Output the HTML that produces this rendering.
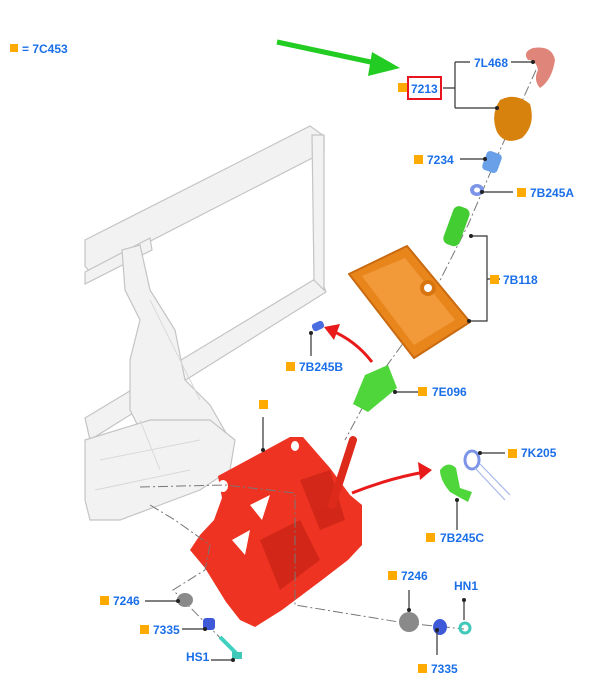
<!DOCTYPE html>
<html><head><meta charset="utf-8"><style>
html,body{margin:0;padding:0;background:#fff;width:600px;height:687px;overflow:hidden}
svg{display:block}
text{font-family:"Liberation Sans",sans-serif;font-weight:bold;font-size:12px;fill:#1a6fe8}
</style></head><body>
<svg width="600" height="687" viewBox="0 0 600 687">
<!-- gray frame -->
<g fill="#f2f2f2" stroke="#c4c4c4" stroke-width="1.2">
<polygon points="85,240 310,126 324,136 324,152 90,272 85,266"/>
<polygon points="85,272 150,238 152,250 85,284"/>
<polygon points="85,418 320,276 326,292 90,440"/>
<polygon points="312,135 324,135 324,290 314,280"/>
<polygon points="122,250 140,245 150,290 175,330 185,380 210,405 230,440 220,470 190,480 150,450 130,410 130,360 140,320 125,290"/>
<polygon points="85,440 150,420 210,420 235,440 230,470 200,490 160,505 120,520 90,520 85,500"/>
</g>
<g stroke="#d8d8d8" stroke-width="1" fill="none">
<path d="M150,300 L200,400 M100,460 L200,440 M95,490 L190,470 M140,420 L160,470"/>
</g>
<!-- red frame -->
<polygon fill="#ee3322" points="218,476 290,437 303,437 330,468 350,495 362,505 362,545 348,560 322,580 282,610 255,627 240,620 226,602 205,568 190,550 200,535 214,520 222,498"/>
<g fill="#fff"><ellipse cx="223" cy="486" rx="5" ry="6"/><ellipse cx="295" cy="446" rx="4" ry="5"/><polygon points="250,505 270,495 262,520"/><polygon points="232,540 250,530 245,555"/></g>
<g fill="#b81d10" opacity=".5"><polygon points="260,540 300,520 320,560 280,590"/><polygon points="300,480 330,470 345,520 320,530"/></g>
<line x1="353" y1="440" x2="332" y2="505" stroke="#dd2a1a" stroke-width="8" stroke-linecap="round"/>
<!-- dash-dot lines -->
<g stroke="#777" stroke-width="1" fill="none" stroke-dasharray="10,3,2,3">
<path d="M536,70 L500,150 L468,225 L420,320 L380,375 L345,440"/>
<path d="M140,487 L225,485 L295,493 L295,605 L405,623 L464,629"/>
<path d="M150,505 L175,520 L210,545 L205,570 L173,590 L240,658"/>
</g>
<!-- red arrows -->
<path d="M372,362 Q355,340 330,330" stroke="#e81a1a" stroke-width="3" fill="none"/>
<polygon points="324,327 340,324 334,340" fill="#e81a1a"/>
<path d="M352,493 Q390,478 425,472" stroke="#e81a1a" stroke-width="3" fill="none"/>
<polygon points="432,470 418,462 420,480" fill="#e81a1a"/>
<!-- green arrow -->
<line x1="277" y1="42" x2="380" y2="64" stroke="#22cc22" stroke-width="5"/>
<polygon points="400,68 372,52 368,76" fill="#22cc22"/>
<!-- parts -->
<path d="M533,48 Q552,45 555,60 Q552,80 540,88 Q533,80 538,70 Q536,60 528,60 Q522,52 533,48z" fill="#e0857a"/>
<path d="M500,100 Q515,92 530,104 Q536,125 522,138 Q505,146 497,132 Q490,115 500,100z" fill="#d8820e"/>
<rect x="484" y="152" width="16" height="20" rx="4" fill="#6aa0e8" transform="rotate(20 492 162)"/>
<ellipse cx="477" cy="190" rx="7" ry="6" fill="#7d95e8"/><ellipse cx="477" cy="190" rx="3" ry="2.5" fill="#fff"/>
<rect x="448" y="206" width="17" height="40" rx="6" fill="#44cc33" transform="rotate(20 456 226)"/>
<polygon points="349,274 407,246 470,322 414,358" fill="#e8861c" stroke="#c96a10" stroke-width="2" stroke-linejoin="round"/>
<polygon points="362,276 405,258 455,320 414,345" fill="#f29a3a"/>
<circle cx="428" cy="288" r="8" fill="#d87510"/><circle cx="428" cy="288" r="4" fill="#fff"/>
<polygon points="365,375 388,365 397,388 368,412 353,404" fill="#4ed63a"/>
<rect x="312" y="322" width="12" height="8" rx="3" fill="#4a6ee0" transform="rotate(-25 318 326)"/>
<path d="M440,470 Q448,460 456,468 L460,488 L472,492 L468,502 L450,492 Q440,480 440,470z" fill="#4ed63a"/>
<ellipse cx="472" cy="460" rx="7" ry="9" fill="none" stroke="#7d95e8" stroke-width="3"/>
<path d="M475,468 L505,500 M480,464 L510,495" stroke="#a8b8ec" stroke-width="1.2"/>
<ellipse cx="185" cy="600" rx="8" ry="7" fill="#8a8a8a"/>
<rect x="203" y="618" width="12" height="12" rx="3" fill="#3f5ad8"/>
<line x1="220" y1="637" x2="238" y2="655" stroke="#40d0c0" stroke-width="4"/>
<rect x="232" y="652" width="10" height="7" fill="#40c8b8"/>
<ellipse cx="409" cy="622" rx="10" ry="10" fill="#8a8a8a"/>
<ellipse cx="440" cy="627" rx="7" ry="8" fill="#3f5ad8"/>
<ellipse cx="465" cy="628" rx="5" ry="5" fill="none" stroke="#40c8b8" stroke-width="3"/>
<!-- leader lines -->
<g stroke="#333" stroke-width="1.2" fill="none">
<path d="M443,88 L455,88 M455,62 L455,108 M455,62 L470,62 M455,108 L497,108"/>
<path d="M511,62 L533,62"/>
<path d="M460,159 L485,159"/>
<path d="M482,192 L513,192"/>
<path d="M471,236 L487,236 L487,321 L469,321 M487,279 L500,279"/>
<path d="M311,333 L311,356"/>
<path d="M395,392 L418,392"/>
<path d="M480,453 L505,453"/>
<path d="M457,500 L457,530"/>
<path d="M145,601 L178,601"/>
<path d="M182,629 L205,629"/>
<path d="M211,660 L233,660"/>
<path d="M409,590 L409,610"/>
<path d="M464,600 L464,620"/>
<path d="M437,630 L437,655"/>
<path d="M263,417 L263,450"/>
</g>
<g fill="#222"><circle cx="533" cy="62" r="2"/><circle cx="497" cy="108" r="2"/><circle cx="485" cy="159" r="2"/><circle cx="482" cy="192" r="2"/><circle cx="471" cy="236" r="2"/><circle cx="469" cy="321" r="2"/><circle cx="311" cy="333" r="2"/><circle cx="395" cy="392" r="2"/><circle cx="480" cy="453" r="2"/><circle cx="457" cy="500" r="2"/><circle cx="178" cy="601" r="2"/><circle cx="205" cy="629" r="2"/><circle cx="233" cy="660" r="2"/><circle cx="409" cy="610" r="2"/><circle cx="464" cy="600" r="2"/><circle cx="437" cy="630" r="2"/><circle cx="263" cy="450" r="2"/></g>
<!-- orange squares -->
<g fill="#ffaa00">
<rect x="10" y="44" width="8" height="8"/>
<rect x="398" y="83" width="9" height="9"/>
<rect x="414" y="155" width="9" height="9"/>
<rect x="517" y="188" width="9" height="9"/>
<rect x="490" y="275" width="9" height="9"/>
<rect x="286" y="362" width="9" height="9"/>
<rect x="418" y="387" width="9" height="9"/>
<rect x="508" y="449" width="9" height="9"/>
<rect x="426" y="533" width="9" height="9"/>
<rect x="100" y="596" width="9" height="9"/>
<rect x="140" y="625" width="9" height="9"/>
<rect x="388" y="571" width="9" height="9"/>
<rect x="418" y="664" width="9" height="9"/>
<rect x="259" y="400" width="9" height="9"/>
</g>
<rect x="408" y="77" width="33" height="22" fill="none" stroke="#e8141e" stroke-width="2"/>
<text x="22" y="53" font-size="11">= 7C453</text>
<text x="411" y="93">7213</text>
<text x="474" y="67">7L468</text>
<text x="427" y="164">7234</text>
<text x="530" y="197">7B245A</text>
<text x="503" y="284">7B118</text>
<text x="299" y="371">7B245B</text>
<text x="432" y="396">7E096</text>
<text x="521" y="457">7K205</text>
<text x="440" y="542">7B245C</text>
<text x="113" y="605">7246</text>
<text x="153" y="634">7335</text>
<text x="186" y="661">HS1</text>
<text x="401" y="580">7246</text>
<text x="454" y="590">HN1</text>
<text x="431" y="673">7335</text>
</svg>
</body></html>
